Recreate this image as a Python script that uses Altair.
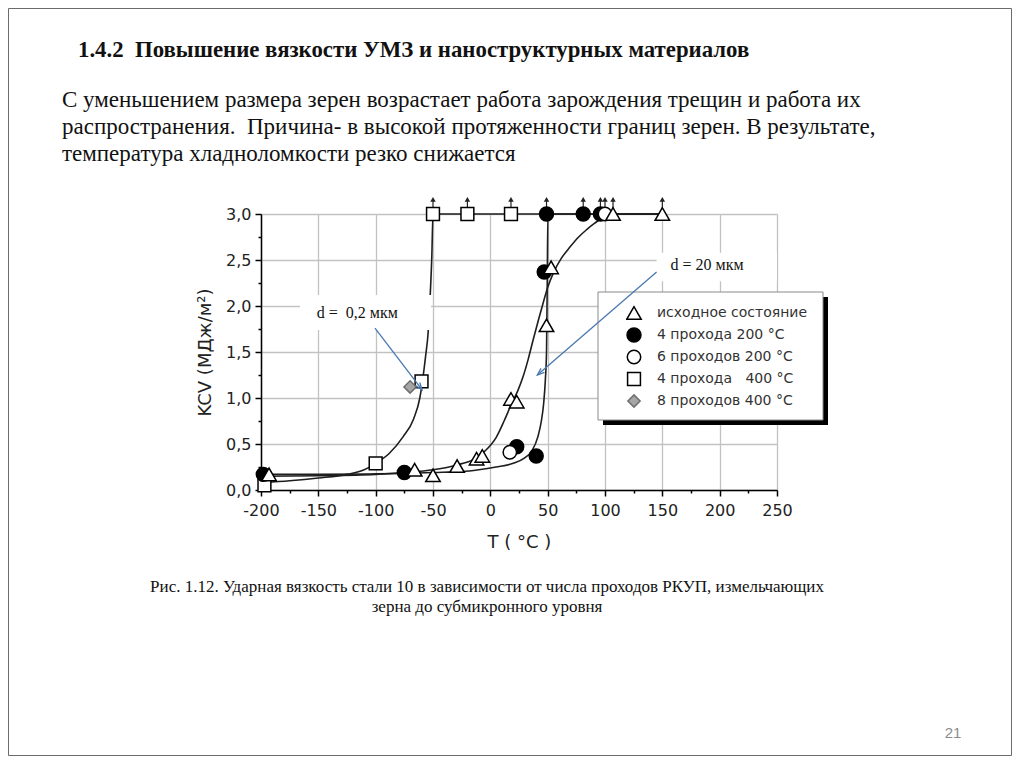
import math
import altair as alt
import pandas as pd

# ---------------- values ----------------
series = ["исходное состояние", "4 прохода 200 °C", "6 проходов 200 °C",
          "4 прохода\u00a0\u00a0 400 °C", "8 проходов 400 °C"]

# markers: T (°C) and KCV (МДж/м²) for each series
tri_T = [-193, -66, -50, -29, -12, -7, 18, 23, 49, 53, 107, 150]
tri_K = [0.17, 0.22, 0.16, 0.26, 0.34, 0.37, 0.99, 0.96, 1.79, 2.42, 3.0, 3.0]
fc_T = [-198, -75, 23, 40, 47, 49, 81, 96]
fc_K = [0.17, 0.19, 0.47, 0.37, 2.37, 3.0, 3.0, 3.0]
oc_T = [17, 100]
oc_K = [0.41, 3.0]
sq_T = [-197, -100, -60, -50, -20, 18]
sq_K = [0.05, 0.29, 1.18, 3.0, 3.0, 3.0]
dm_T = [-70]
dm_K = [1.12]

# fitted curves
curveA_T = [-198, -175, -150, -125, -110, -100, -88, -76, -67, -61.5, -59, -56.5, -54, -52.5, -51, -50, 150]
curveA_K = [0.08, 0.10, 0.13, 0.17, 0.22, 0.29, 0.40, 0.58, 0.77, 1.0, 1.2, 1.45, 1.75, 2.1, 2.55, 3.0, 3.0]
curveB_T = [-198, -150, -100, -75, -50, -25, -10, 5, 20, 30, 36, 41.5, 44.5, 46.5, 48, 49, 49.6, 50.2, 150]
curveB_K = [0.17, 0.17, 0.175, 0.18, 0.19, 0.2, 0.22, 0.25, 0.29, 0.35, 0.42, 0.58, 0.75, 0.94, 1.2, 1.5, 2.2, 3.0, 3.0]
curveC_T = [-197, -150, -100, -75, -50, -30, -15, -5, 5, 12, 18.6, 24, 28.5, 33, 37.3, 42, 46, 50, 55, 62,
            69.4, 77, 84, 91, 98, 107, 150]
curveC_K = [0.15, 0.155, 0.17, 0.19, 0.22, 0.27, 0.33, 0.42, 0.57, 0.75, 0.94, 1.08, 1.23, 1.42, 1.63, 1.85,
            2.03, 2.2, 2.36, 2.52, 2.64, 2.75, 2.83, 2.9, 2.96, 3.0, 3.0]

# annotations (data units)
ann_text = ["d =\u00a0 0,2 мкм", "d = 20 мкм"]
ann_T = [-116, 189]
ann_K = [1.92, 2.45]
box_T1 = [-166, 145]
box_T2 = [-51.7, 250]
box_K1 = [1.74, 2.27]
box_K2 = [2.12, 2.58]
arr_T1 = [-100.6, 145]
arr_K1 = [1.76, 2.37]
arr_T2 = [-59.6, 41]
arr_K2 = [1.09, 1.25]

x_ticks = list(range(-200, 251, 25))
y_ticks = [i * 0.25 for i in range(13)]

title_text = "1.4.2\u00a0 Повышение вязкости УМЗ и наноструктурных материалов"
body_lines = ["С уменьшением размера зерен возрастает работа зарождения трещин и работа их",
              "распространения.\u00a0 Причина- в высокой протяженности границ зерен. В результате,",
              "температура хладноломкости резко снижается"]
caption_lines = ["Рис. 1.12. Ударная вязкость стали 10 в зависимости от числа проходов РКУП, измельчающих",
                 "зерна до субмикронного уровня"]
page_no = "21"

# ---------------- tables ----------------
rows = []
for name, T, K in [(series[3], sq_T, sq_K), (series[4], dm_T, dm_K), (series[1], fc_T, fc_K),
                   (series[2], oc_T, oc_K), (series[0], tri_T, tri_K)]:
    for t, k in zip(T, K):
        rows.append({"T": t, "K": k, "s": name})
pts = pd.DataFrame(rows)
top_pts = pts[pts["K"] >= 3.0].copy()
top_pts["K2"] = 3.16

crows = []
for cid, T, K in [("A", curveA_T, curveA_K), ("B", curveB_T, curveB_K), ("C", curveC_T, curveC_K)]:
    for i, (t, k) in enumerate(zip(T, K)):
        crows.append({"c": cid, "i": i, "T": t, "K": k})
curves_df = pd.DataFrame(crows)

W, H = 516, 276
pxT = W / 450.0
pxK = H / 3.0
angs = []
for t1, k1, t2, k2 in zip(arr_T1, arr_K1, arr_T2, arr_K2):
    dx = (t2 - t1) * pxT
    dy = -(k2 - k1) * pxK
    angs.append(math.degrees(math.atan2(dx, -dy)) % 360)
arr_df = pd.DataFrame({"T1": arr_T1, "K1": arr_K1, "T2": arr_T2, "K2": arr_K2, "ang": angs})
box_df = pd.DataFrame({"T1": box_T1, "T2": box_T2, "K1": box_K1, "K2": box_K2})
ann_df = pd.DataFrame({"T": ann_T, "K": ann_K, "txt": ann_text})

xs = alt.Scale(domain=[-200, 250], nice=False, zero=False)
ys = alt.Scale(domain=[0, 3.0], nice=False, zero=False)

x_axis = alt.Axis(
    values=x_ticks,
    labelExpr="datum.value % 50 === 0 ? '' + datum.value : ''",
    tickSize={"condition": {"test": "datum.value % 50 === 0", "value": 6}, "value": 3},
    gridOpacity={"condition": {"test": "datum.value % 50 === 0", "value": 1}, "value": 0},
    labelFlush=False, labelOverlap=False, labelBound=False,
    labelPadding=6, title="T ( °C )", titleX=W / 2, titleY=52, titleBaseline="middle",
)
y_axis = alt.Axis(
    values=y_ticks,
    labelExpr="datum.value % 0.5 === 0 ? replace(format(datum.value, '.1f'), '.', ',') : ''",
    tickSize={"condition": {"test": "datum.value % 0.5 === 0", "value": 6}, "value": 3},
    gridOpacity={"condition": {"test": "datum.value % 0.5 === 0", "value": 1}, "value": 0},
    labelFlush=False, labelOverlap=False, labelBound=False,
    labelPadding=4, title="KCV (МДж/м²)", titleX=-56, titleY=H / 2, titleBaseline="middle",
)


def X(field):
    return alt.X(field, scale=xs, axis=x_axis)


def Y(field):
    return alt.Y(field, scale=ys, axis=y_axis)


curves = alt.Chart(curves_df).mark_line(interpolate="monotone", color="#1e1e1e", strokeWidth=1.6).encode(
    x=X("T:Q"), y=Y("K:Q"), detail="c:N", order="i:Q")

boxes = alt.Chart(box_df).mark_rect(color="white").encode(
    x=X("T1:Q"), x2="T2:Q", y=Y("K1:Q"), y2="K2:Q")

one = alt.Data(values=[{"a": 1}])
shadow = alt.Chart(one).mark_rect(color="#000000").encode(
    x=alt.value(342), x2=alt.value(567), y=alt.value(83), y2=alt.value(211))
legbox = alt.Chart(one).mark_rect(fill="white", stroke="#8a8a8a", strokeWidth=1).encode(
    x=alt.value(337), x2=alt.value(562), y=alt.value(78), y2=alt.value(206))

uprules = alt.Chart(top_pts).mark_rule(color="#222", strokeWidth=1.2).encode(
    x=X("T:Q"), y=Y("K:Q"), y2="K2:Q")
upheads = alt.Chart(top_pts).mark_point(shape="triangle-up", filled=True, color="#222", size=30, opacity=1).encode(
    x=X("T:Q"), y=Y("K2:Q"))

leg = alt.Legend(title=None, orient="none", legendX=365, legendY=88, padding=0,
                 rowPadding=0, clipHeight=22, labelOffset=15, symbolOffset=0,
                 labelFont="DejaVu Sans", labelFontSize=14, labelColor="#333333",
                 symbolStrokeWidth=1.5)
points = alt.Chart(pts).mark_point(opacity=1, fillOpacity=1, strokeWidth=1.5).encode(
    x=X("T:Q"), y=Y("K:Q"),
    shape=alt.Shape("s:N", scale=alt.Scale(domain=series, range=["triangle-up", "circle", "circle", "square", "diamond"]), legend=leg),
    fill=alt.Fill("s:N", scale=alt.Scale(domain=series, range=["#ffffff", "#000000", "#ffffff", "#ffffff", "#a6a6a6"]), legend=leg),
    stroke=alt.Stroke("s:N", scale=alt.Scale(domain=series, range=["#000000", "#000000", "#000000", "#000000", "#6e6e6e"]), legend=leg),
    size=alt.Size("s:N", scale=alt.Scale(domain=series, range=[210, 150, 150, 140, 170]), legend=leg),
)

arrows = alt.Chart(arr_df).mark_rule(color="#4a78b0", strokeWidth=1.3).encode(
    x=X("T1:Q"), x2="T2:Q", y=Y("K1:Q"), y2="K2:Q")
heads = alt.Chart(arr_df).mark_point(shape="M-0.55,1.5L0,0L0.55,1.5", filled=False, color="#4a78b0",
                                     strokeWidth=1.3, size=90, opacity=1).encode(
    x=X("T2:Q"), y=Y("K2:Q"), angle=alt.Angle("ang:Q", scale=None))
anns = alt.Chart(ann_df).mark_text(font="Liberation Serif", fontSize=16, color="#111111").encode(
    x=X("T:Q"), y=Y("K:Q"), text="txt:N")


def text_layer(s, x, y, **style):
    return alt.Chart(alt.Data(values=[{"s": s}])).mark_text(**style).encode(
        text="s:N", x=alt.value(x), y=alt.value(y))


texts = [text_layer(title_text, -183, -164, align="left", baseline="middle", font="Liberation Serif",
                    fontSize=22.8, fontWeight="bold", color="#111111")]
for i, line in enumerate(body_lines):
    texts.append(text_layer(line, -199, -114 + 27 * i, align="left", baseline="middle",
                            font="Liberation Serif", fontSize=23, color="#111111"))
for i, line in enumerate(caption_lines):
    texts.append(text_layer(line, 226, 373 + 20 * i, align="center", baseline="middle",
                            font="Liberation Serif", fontSize=17, color="#111111"))
texts.append(text_layer(page_no, 692, 519, align="center", baseline="middle",
                        font="Liberation Sans", fontSize=15, color="#8c8c8c"))

border = alt.Chart(one).mark_rect(fillOpacity=0, stroke="#6b6b6b", strokeWidth=1).encode(
    x=alt.value(-252.5), x2=alt.value(750.5), y=alt.value(-205.5), y2=alt.value(541.5))

chart = alt.layer(curves, boxes, shadow, legbox, uprules, points, upheads, arrows, heads, anns,
                  *texts, border).properties(
    width=W, height=H,
    autosize=alt.AutoSizeParams(type="none"),
    padding={"left": 253, "top": 206, "right": 235, "bottom": 266},
).configure_axis(
    domainColor="#000000", domainWidth=1.5, tickColor="#000000", tickWidth=1.5,
    gridColor="#c2c2c2", gridWidth=1.3,
    labelFont="DejaVu Sans", labelFontSize=16, labelColor="#222222",
    titleFont="DejaVu Sans", titleFontSize=18, titleFontWeight="normal", titleColor="#222222",
).configure_view(stroke="transparent")

chart.save("out.html", embed_options={"renderer": "svg", "actions": False})
